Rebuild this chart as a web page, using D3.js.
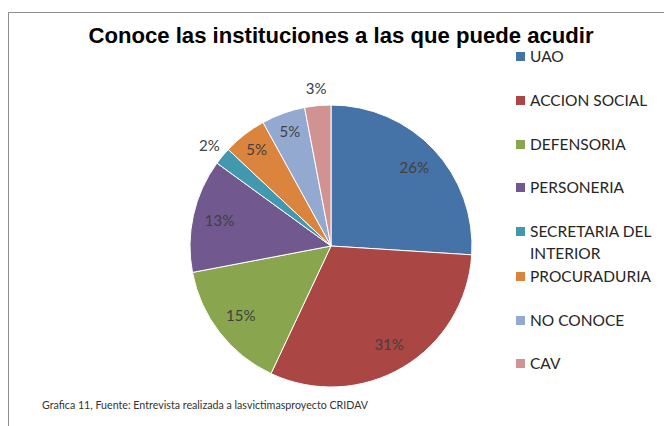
<!DOCTYPE html>
<html>
<head>
<meta charset="utf-8">
<script src="https://cdn.jsdelivr.net/npm/d3@7"></script>
<style>
  body { margin: 0; background: #fff; }
  text { font-family: Lato, "Open Sans", sans-serif; }
</style>
</head>
<body>
<script>
// datos de la grafica
const categorias = ['UAO', 'ACCION SOCIAL', 'DEFENSORIA', 'PERSONERIA', 'SECRETARIA DEL INTERIOR', 'PROCURADURIA', 'NO CONOCE', 'CAV'];
const porcentajes = [26, 31, 15, 13, 2, 5, 5, 3];
const colores = ['#4572A7', '#AA4643', '#89A54E', '#71588F', '#4198AF', '#DB843D', '#93A9CF', '#D19392'];

const width = 664, height = 426;
const cx = 331, cy = 246, radius = 141;

const svg = d3.select('body')
    .append('svg')
    .attr('width', width)
    .attr('height', height);

// marco del grafico (abierto a derecha y abajo)
svg.append('path')
    .attr('d', 'M 8.5 426 L 8.5 12.5 L 664 12.5')
    .attr('fill', 'none')
    .attr('stroke', '#8c8c8c')
    .attr('stroke-width', 1);

svg.append('text')
    .attr('x', 341)
    .attr('y', 43)
    .attr('text-anchor', 'middle')
    .style('font-family', '"Liberation Sans", Arial, sans-serif')
    .style('font-weight', 'bold')
    .style('font-size', '21.5px')
    .attr('fill', '#000')
    .attr('textLength', 505)
    .attr('lengthAdjust', 'spacingAndGlyphs')
    .text('Conoce las instituciones a las que puede acudir');

const data = categorias.map((c, i) => ({ cat: c, val: porcentajes[i], color: colores[i] }));

const pie = d3.pie().value(d => d.val).sort(null);
const arc = d3.arc().innerRadius(0).outerRadius(radius);

const g = svg.append('g').attr('transform', 'translate(' + cx + ',' + cy + ')');

const arcs = pie(data);

g.selectAll('path')
    .data(arcs)
    .enter().append('path')
    .attr('d', arc)
    .attr('fill', d => d.data.color)
    .attr('stroke', '#fff')
    .attr('stroke-width', 1);

// etiquetas: dentro salvo las rebanadas chicas
const arcDentro = d3.arc().innerRadius(radius * 0.81).outerRadius(radius * 0.81);
const arcChico = d3.arc().innerRadius(radius * 0.86).outerRadius(radius * 0.86);
const arcFuera = d3.arc().innerRadius(radius * 1.12).outerRadius(radius * 1.12);

g.selectAll('.etiqueta')
    .data(arcs)
    .enter().append('text')
    .attr('class', 'etiqueta')
    .attr('transform', d => {
        let p;
        if (d.data.val < 4) p = arcFuera.centroid(d);
        else if (d.data.val < 10) p = arcChico.centroid(d);
        else p = arcDentro.centroid(d);
        return 'translate(' + p[0] + ',' + p[1] + ')';
    })
    .attr('dy', '0.35em')
    .attr('text-anchor', 'middle')
    .style('font-size', '15px')
    .attr('fill', '#404040')
    .text(d => d.data.val + '%');

// leyenda
const leyendaY = [57, 101, 145, 188, 232, 277, 321, 364];
const leyenda = svg.append('g').attr('class', 'leyenda');

data.forEach((d, i) => {
    const it = leyenda.append('g').attr('transform', 'translate(516,' + leyendaY[i] + ')');
    it.append('rect')
        .attr('x', 0).attr('y', -5)
        .attr('width', 9).attr('height', 9)
        .attr('fill', d.color);
    const t = it.append('text')
        .attr('x', 14)
        .attr('y', 0)
        .attr('dy', '0.35em')
        .style('font-size', '15.5px')
        .attr('fill', '#262626');
    if (d.cat === 'SECRETARIA DEL INTERIOR') {
        t.append('tspan').attr('x', 14).text('SECRETARIA DEL');
        t.append('tspan').attr('x', 14).attr('dy', '1.4em').text('INTERIOR');
    } else {
        t.text(d.cat);
    }
});

svg.append('text')
    .attr('x', 42)
    .attr('y', 409)
    .style('font-size', '12px')
    .attr('fill', '#333')
    .attr('textLength', 326)
    .attr('lengthAdjust', 'spacingAndGlyphs')
    .text('Grafica 11, Fuente:  Entrevista realizada a lasvictimasproyecto  CRIDAV');
</script>
</body>
</html>
